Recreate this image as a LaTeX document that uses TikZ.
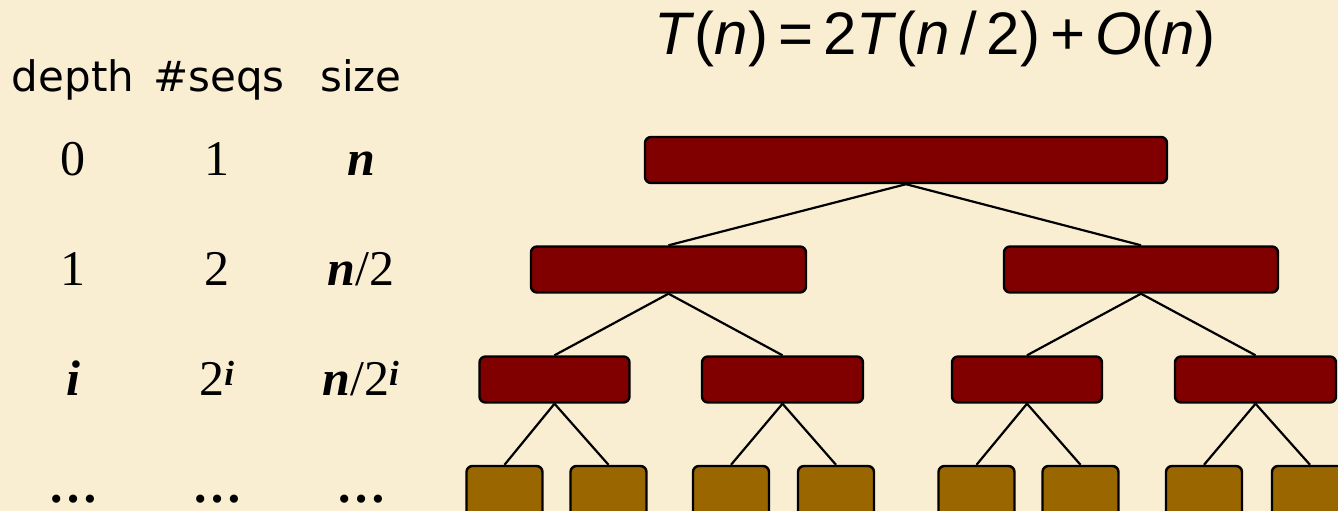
\documentclass[tikz,border=0pt]{standalone}
\usepackage{fontspec}
\setmainfont{Liberation Serif}
\newfontfamily\headfont{DejaVu Sans}
\newfontfamily\formfont{Liberation Sans}

\definecolor{cream}{RGB}{250,238,210}
\definecolor{seqred}{RGB}{128,0,0}
\definecolor{seqbrown}{RGB}{153,102,0}

\begin{document}
\begin{tikzpicture}[x=1pt,y=-1pt,
  seqbox/.style={draw, line width=2.4pt, rounded corners=6pt, inner sep=0pt, minimum height=46pt},
  mergebox/.style={seqbox, fill=seqred},
  leafbox/.style={seqbox, fill=seqbrown, minimum width=76pt, minimum height=52pt},
  head/.style={font=\headfont\fontsize{42}{50}\selectfont, anchor=base},
  num/.style={font=\fontsize{50}{60}\selectfont, anchor=base}]
  \fill[cream] (0,0) rectangle (1338,511);
  \useasboundingbox (0,0) rectangle (1338,511);

  % recurrence
  \node[anchor=base, font=\formfont\fontsize{60}{72}\selectfont] (rec) at (935,55)
    {\textit{T}(\textit{n})\hspace{10pt}=\hspace{10pt}2\textit{T}(\textit{n}\hspace{10pt}/\hspace{10pt}2)\hspace{10pt}+\hspace{10pt}\textit{O}(\textit{n})};

  % table
  \node[head] (hd) at (73,92)  {depth};
  \node[head] (hs) at (219,92) {\#seqs};
  \node[head] (hz) at (361,92) {size};

  \node[num] (d0) at (73,175)  {0};
  \node[num] (s0) at (217,175) {1};
  \node[num] (z0) at (361,175) {\textbf{\textit{n}}};
  \node[num] (d1) at (73,285)  {1};
  \node[num] (s1) at (217,285) {2};
  \node[num] (z1) at (361,285) {\textbf{\textit{n}}/2};
  \node[num] (d2) at (73,395)  {\textbf{\textit{i}}};
  \node[num] (s2) at (217,395) {2\textsuperscript{\textbf{\textit{i}}}};
  \node[num] (z2) at (361,395) {\textbf{\textit{n}}/2\textsuperscript{\textbf{\textit{i}}}};
  \node[num] (d3) at (73,502)  {\textbf{…}};
  \node[num] (s3) at (217,502) {\textbf{…}};
  \node[num] (z3) at (361,502) {\textbf{…}};

  % recursion tree
  \node[mergebox, minimum width=522pt] (r)  at (906,160)   {};
  \node[mergebox, minimum width=275pt] (a0) at (668.5,269.5) {};
  \node[mergebox, minimum width=274pt] (a1) at (1141,269.5)  {};
  \node[mergebox, minimum width=150pt] (b0) at (554.5,379.5)  {};
  \node[mergebox, minimum width=161pt] (b1) at (782.5,379.5)  {};
  \node[mergebox, minimum width=150pt] (b2) at (1027,379.5)   {};
  \node[mergebox, minimum width=161pt] (b3) at (1255.5,379.5) {};
  \node[leafbox] (c0) at (504.5,492) {};
  \node[leafbox] (c1) at (608.5,492) {};
  \node[leafbox] (c2) at (731,492)   {};
  \node[leafbox] (c3) at (836,492)   {};
  \node[leafbox] (c4) at (976.5,492) {};
  \node[leafbox] (c5) at (1080.5,492) {};
  \node[leafbox] (c6) at (1204,492)  {};
  \node[leafbox] (c7) at (1310,492)  {};

  \path[line width=2.2pt]
        (r.south)  edge (a0.north)
                   edge (a1.north)
        (a0.south) edge (b0.north)
                   edge (b1.north)
        (a1.south) edge (b2.north)
                   edge (b3.north)
        (b0.south) edge (c0.north)
                   edge (c1.north)
        (b1.south) edge (c2.north)
                   edge (c3.north)
        (b2.south) edge (c4.north)
                   edge (c5.north)
        (b3.south) edge (c6.north)
                   edge (c7.north);
\end{tikzpicture}
\end{document}
